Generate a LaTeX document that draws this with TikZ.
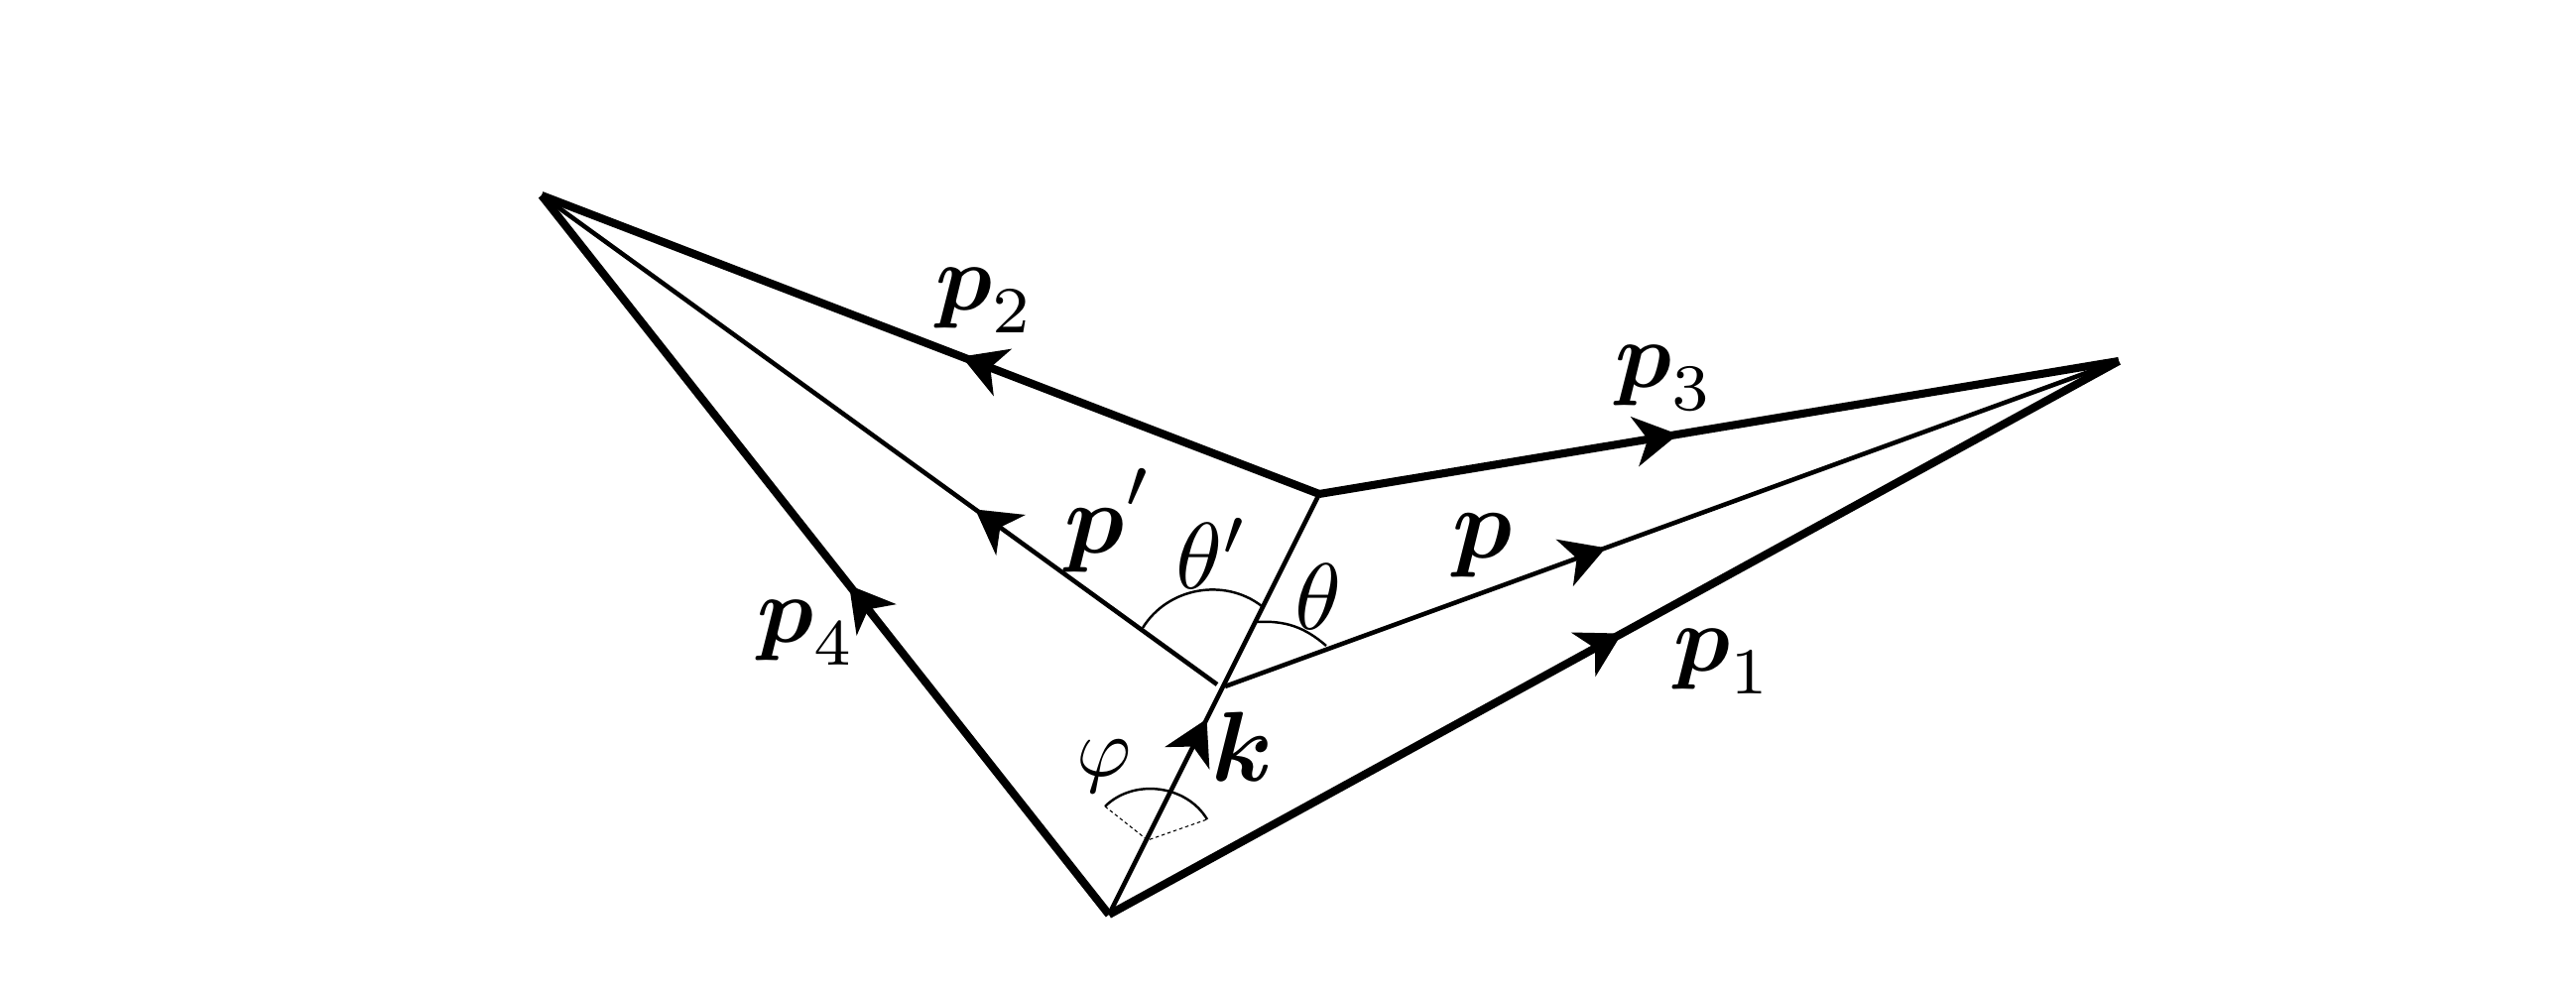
\documentclass[tikz,border=0pt]{standalone}
\usepackage{amsmath}
\usetikzlibrary{arrows.meta, decorations.markings}

\tikzset{
	tipat/.style={postaction={decorate, decoration={markings,
		mark=at position #1 with {\arrow{Stealth[length=.44cm, width=.5cm, inset=.13cm]}}}}},
	outer/.style={line width=2.3pt},
	inner/.style={line width=1.3pt},
	angarc/.style={line width=.7pt},
	guide/.style={line width=.3pt, dash pattern=on 1pt off .8pt},
	lab/.style={scale=2.7, inner sep=0pt},
	biglab/.style={scale=2.85, inner sep=0pt},
	anglab/.style={scale=2.7, inner sep=0pt},
	smalllab/.style={scale=2.4, inner sep=0pt}
}

\begin{document}
\begin{tikzpicture}
	\useasboundingbox (0,0) rectangle (25.97,10);
	% corners of the quadrilateral
	\coordinate (bottom) at (11.18,.78);
	\coordinate (right) at (21.36,6.36);
	\coordinate (top) at (5.46,8.03);
	\coordinate (mid) at (13.30,5.02);
	\coordinate (pstart) at (12.35,3.08);
	\coordinate (qstart) at (12.27,3.10);
	% outer legs
	\draw[outer, tipat=.508] (bottom) -- (right);
	\draw[outer, tipat=.46] (mid) -- (top);
	\draw[outer, tipat=.449] (mid) -- (right);
	\draw[outer, tipat=.458] (bottom) -- (top);
	% inner lines
	\draw[inner, tipat=.465] (bottom) -- (mid);
	\draw[inner, tipat=.426] (pstart) -- (right);
	\draw[inner, tipat=.358] (qstart) -- (top);
	% angles
	\coordinate (tqa) at (11.52,3.67);
	\coordinate (tqb) at (12.72,3.89);
	\coordinate (tpa) at (12.67,3.73);
	\coordinate (tpb) at (13.37,3.49);
	\coordinate (fa) at (11.14,1.87);
	\coordinate (fb) at (12.17,1.74);
	\coordinate (fc) at (11.57,1.53);
	\draw[angarc] (tqa) to[bend left=48] (tqb);
	\draw[angarc] (tpa) to[bend left=22] (tpb);
	\draw[angarc] (fa) to[bend left=52] (fb);
	\draw[guide] (fa) -- (fc) -- (fb);
	% labels
	\node[lab] (lp1) at (17.37,3.33) {$\boldsymbol{p}_1$};
	\node[lab] (lp2) at (9.93,6.97) {$\boldsymbol{p}_2$};
	\node[lab] (lp3) at (16.78,6.19) {$\boldsymbol{p}_3$};
	\node[lab] (lp4) at (8.13,3.62) {$\boldsymbol{p}_4$};
	\node[biglab] (lp) at (14.95,4.50) {$\boldsymbol{p}$};
	\node[biglab] (lq) at (11.18,4.75) {$\boldsymbol{p}^{\raisebox{1pt}{$\scriptstyle\prime$}}$};
	\node[biglab] (lk) at (12.53,2.47) {$\boldsymbol{k}$};
	\node[anglab] (ltq) at (12.22,4.42) {$\theta'$};
	\node[anglab] (lt) at (13.29,3.98) {$\theta$};
	\node[smalllab] (lf) at (11.13,2.27) {$\varphi$};
\end{tikzpicture}
\end{document}
